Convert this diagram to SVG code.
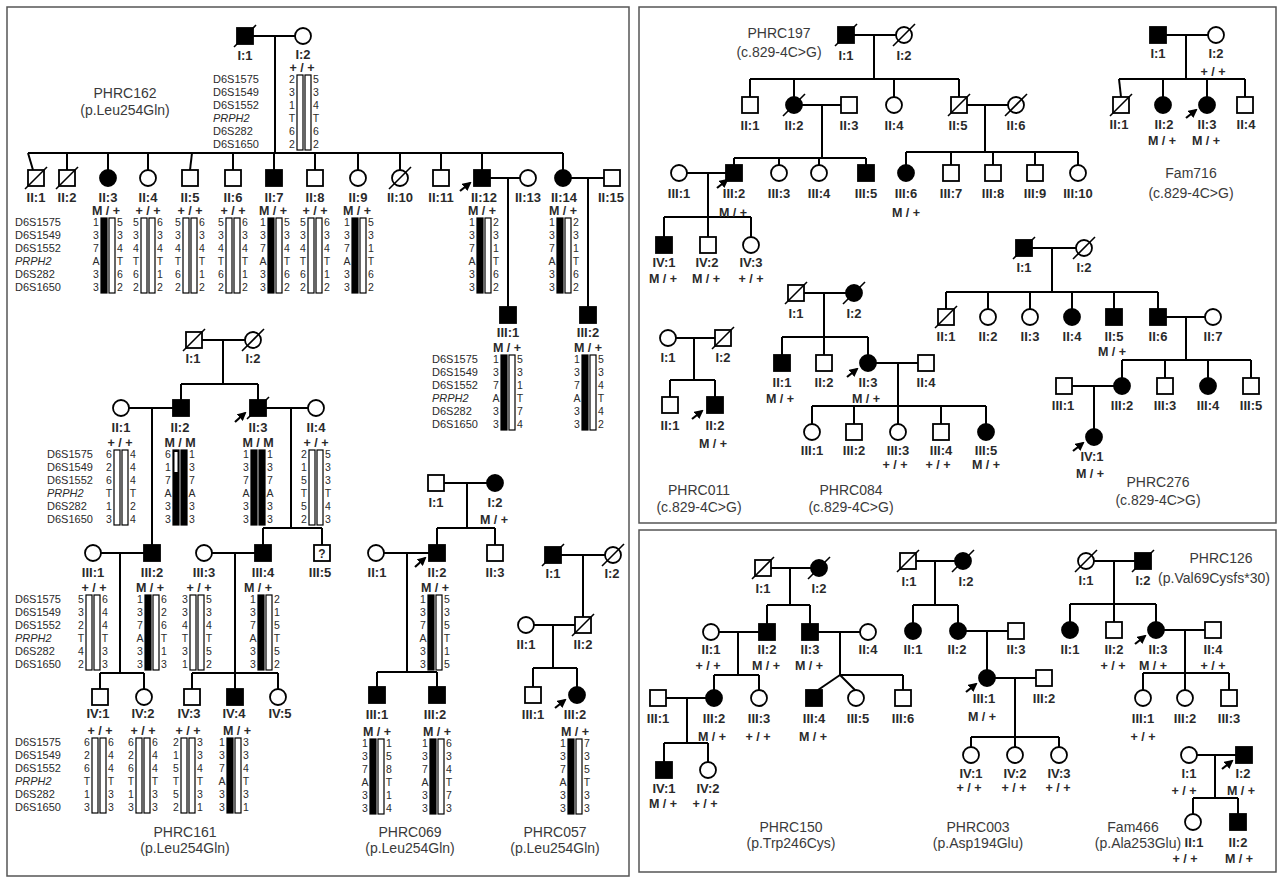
<svg xmlns="http://www.w3.org/2000/svg" width="1281" height="880" viewBox="0 0 1281 880">
<style>
text{font-family:"Liberation Sans",Arial,Helvetica,sans-serif}
.o{fill:#fff;stroke:#000;stroke-width:1.8}
.f{fill:#000;stroke:#000;stroke-width:1.8}
.d{stroke:#000;stroke-width:1.6}
#conn line{stroke:#000;stroke-width:2;fill:none}
.lb{font-size:13px;font-weight:bold;text-anchor:middle;fill:#2a2a2a}
.gt{font-size:12.5px;font-weight:bold;text-anchor:middle;fill:#2a2a2a}
.tt{font-size:14px;text-anchor:middle;fill:#3a3a3a}
.mk text{font-size:11px;fill:#2a2a2a}
.h text{font-size:10.5px;text-anchor:middle;fill:#2a2a2a}
.k{fill:#000;stroke:#000;stroke-width:1.2}
.w{fill:#fff;stroke:#000;stroke-width:1.2}
.ar{stroke:#000;stroke-width:2.2;marker-end:url(#ah)}
.pn{fill:#fff;stroke:#555;stroke-width:1.5}
</style>
<defs><marker id="ah" markerUnits="userSpaceOnUse" markerWidth="9" markerHeight="9" refX="7" refY="4.5" orient="auto"><path d="M0,0 L9,4.5 L0,9 z"/></marker></defs>
<rect width="1281" height="880" fill="#fff"/>
<g id="panels">
<rect class="pn" x="7" y="7" width="622" height="869"/>
<rect class="pn" x="639" y="7" width="637" height="516"/>
<rect class="pn" x="639" y="530" width="637" height="342"/>
</g>
<g id="conn">
<line x1="253" y1="36" x2="295" y2="36"/><line x1="275" y1="36" x2="275" y2="153"/>
<line x1="28" y1="153" x2="563" y2="153"/>
<line x1="28" y1="153" x2="33" y2="170"/><line x1="67" y1="153" x2="67" y2="170"/><line x1="108" y1="153" x2="108" y2="170"/><line x1="148" y1="153" x2="148" y2="170"/><line x1="192" y1="153" x2="190" y2="170"/><line x1="233" y1="153" x2="233" y2="170"/><line x1="274" y1="153" x2="274" y2="170"/><line x1="315" y1="153" x2="315" y2="170"/><line x1="358" y1="153" x2="358" y2="170"/><line x1="400" y1="153" x2="400" y2="170"/><line x1="441" y1="153" x2="441" y2="170"/><line x1="482" y1="153" x2="482" y2="170"/><line x1="563" y1="153" x2="563" y2="170"/>
<line x1="490" y1="178" x2="520" y2="178"/><line x1="508" y1="178" x2="508" y2="307"/>
<line x1="571" y1="178" x2="604" y2="178"/><line x1="588" y1="178" x2="588" y2="307"/>
<line x1="202" y1="340" x2="245" y2="340"/><line x1="223" y1="340" x2="223" y2="384"/>
<line x1="181" y1="384" x2="258" y2="384"/><line x1="181" y1="384" x2="181" y2="400"/><line x1="258" y1="384" x2="258" y2="400"/>
<line x1="129" y1="408" x2="173" y2="408"/><line x1="152" y1="408" x2="152" y2="545"/>
<line x1="266" y1="408" x2="308" y2="408"/><line x1="291" y1="408" x2="291" y2="528"/>
<line x1="263" y1="528" x2="322" y2="528"/><line x1="263" y1="528" x2="263" y2="545"/><line x1="322" y1="528" x2="322" y2="545"/>
<line x1="101" y1="553" x2="144" y2="553"/><line x1="120" y1="553" x2="120" y2="673"/>
<line x1="212" y1="553" x2="255" y2="553"/><line x1="235" y1="553" x2="235" y2="689"/>
<line x1="100" y1="673" x2="144" y2="673"/><line x1="100" y1="673" x2="100" y2="689"/><line x1="144" y1="673" x2="144" y2="689"/>
<line x1="192" y1="673" x2="278" y2="673"/><line x1="192" y1="673" x2="192" y2="689"/><line x1="278" y1="673" x2="278" y2="689"/>
<line x1="444" y1="483" x2="487" y2="483"/><line x1="467" y1="483" x2="467" y2="528"/>
<line x1="437" y1="528" x2="495" y2="528"/><line x1="437" y1="528" x2="437" y2="545"/><line x1="495" y1="528" x2="495" y2="545"/>
<line x1="384" y1="553" x2="429" y2="553"/><line x1="407" y1="553" x2="407" y2="672"/>
<line x1="377" y1="672" x2="437" y2="672"/><line x1="377" y1="672" x2="377" y2="687"/><line x1="437" y1="672" x2="437" y2="687"/>
<line x1="561" y1="555" x2="605" y2="555"/><line x1="583" y1="555" x2="583" y2="617"/>
<line x1="534" y1="625" x2="575" y2="625"/><line x1="553" y1="625" x2="553" y2="668"/>
<line x1="533" y1="668" x2="577" y2="668"/><line x1="533" y1="668" x2="533" y2="687"/><line x1="577" y1="668" x2="577" y2="687"/>
<line x1="854" y1="35" x2="896" y2="35"/><line x1="874" y1="35" x2="874" y2="79"/>
<line x1="750" y1="79" x2="959" y2="79"/><line x1="750" y1="79" x2="750" y2="97"/><line x1="794" y1="79" x2="794" y2="97"/><line x1="894" y1="79" x2="894" y2="97"/><line x1="959" y1="79" x2="959" y2="97"/>
<line x1="802" y1="105" x2="841" y2="105"/><line x1="822" y1="105" x2="822" y2="158"/>
<line x1="967" y1="105" x2="1008" y2="105"/><line x1="985" y1="105" x2="985" y2="152"/>
<line x1="734" y1="158" x2="866" y2="158"/><line x1="734" y1="158" x2="734" y2="165"/><line x1="779" y1="158" x2="779" y2="165"/><line x1="819" y1="158" x2="819" y2="165"/><line x1="866" y1="158" x2="866" y2="165"/>
<line x1="906" y1="152" x2="1078" y2="152"/><line x1="906" y1="152" x2="906" y2="165"/><line x1="951" y1="152" x2="951" y2="165"/><line x1="993" y1="152" x2="993" y2="165"/><line x1="1035" y1="152" x2="1035" y2="165"/><line x1="1078" y1="152" x2="1078" y2="165"/>
<line x1="687" y1="173" x2="726" y2="173"/><line x1="708" y1="173" x2="708" y2="237"/>
<line x1="664" y1="217" x2="751" y2="217"/><line x1="664" y1="217" x2="664" y2="237"/><line x1="751" y1="217" x2="751" y2="237"/>
<line x1="1166" y1="35" x2="1208" y2="35"/><line x1="1186" y1="35" x2="1186" y2="79"/>
<line x1="1119" y1="79" x2="1245" y2="79"/><line x1="1119" y1="79" x2="1121" y2="97"/><line x1="1163" y1="79" x2="1163" y2="97"/><line x1="1207" y1="79" x2="1207" y2="97"/><line x1="1245" y1="79" x2="1245" y2="97"/>
<line x1="676" y1="338" x2="715" y2="338"/><line x1="694" y1="338" x2="694" y2="380"/>
<line x1="670" y1="380" x2="715" y2="380"/><line x1="670" y1="380" x2="670" y2="397"/><line x1="715" y1="380" x2="715" y2="397"/>
<line x1="804" y1="293" x2="846" y2="293"/><line x1="824" y1="293" x2="824" y2="355"/>
<line x1="782" y1="337" x2="868" y2="337"/><line x1="782" y1="337" x2="782" y2="355"/><line x1="868" y1="337" x2="868" y2="355"/>
<line x1="876" y1="363" x2="918" y2="363"/><line x1="898" y1="363" x2="898" y2="424"/>
<line x1="812" y1="406" x2="986" y2="406"/><line x1="812" y1="406" x2="812" y2="424"/><line x1="854" y1="406" x2="854" y2="424"/><line x1="941" y1="406" x2="941" y2="424"/><line x1="986" y1="406" x2="986" y2="424"/>
<line x1="1032" y1="248" x2="1076" y2="248"/><line x1="1052" y1="248" x2="1052" y2="292"/>
<line x1="946" y1="292" x2="1158" y2="292"/><line x1="946" y1="292" x2="946" y2="309"/><line x1="988" y1="292" x2="988" y2="309"/><line x1="1030" y1="292" x2="1030" y2="309"/><line x1="1072" y1="292" x2="1072" y2="309"/><line x1="1114" y1="292" x2="1114" y2="309"/><line x1="1158" y1="292" x2="1158" y2="309"/>
<line x1="1166" y1="317" x2="1205" y2="317"/><line x1="1186" y1="317" x2="1186" y2="360"/>
<line x1="1122" y1="360" x2="1251" y2="360"/><line x1="1122" y1="360" x2="1122" y2="378"/><line x1="1165" y1="360" x2="1165" y2="378"/><line x1="1208" y1="360" x2="1208" y2="378"/><line x1="1251" y1="360" x2="1251" y2="378"/>
<line x1="1072" y1="386" x2="1114" y2="386"/><line x1="1094" y1="386" x2="1094" y2="429"/>
<line x1="771" y1="568" x2="811" y2="568"/><line x1="790" y1="568" x2="790" y2="605"/>
<line x1="767" y1="605" x2="810" y2="605"/><line x1="767" y1="605" x2="767" y2="624"/><line x1="810" y1="605" x2="810" y2="624"/>
<line x1="719" y1="632" x2="759" y2="632"/><line x1="738" y1="632" x2="738" y2="675"/>
<line x1="818" y1="632" x2="860" y2="632"/><line x1="840" y1="632" x2="840" y2="675"/>
<line x1="714" y1="675" x2="759" y2="675"/><line x1="714" y1="675" x2="714" y2="690"/><line x1="759" y1="675" x2="759" y2="690"/>
<line x1="840" y1="675" x2="818" y2="690"/><line x1="840" y1="675" x2="855" y2="690"/><line x1="840" y1="675" x2="903" y2="675"/><line x1="903" y1="675" x2="903" y2="690"/>
<line x1="666" y1="698" x2="706" y2="698"/><line x1="687" y1="698" x2="687" y2="743"/>
<line x1="664" y1="743" x2="708" y2="743"/><line x1="664" y1="743" x2="664" y2="762"/><line x1="708" y1="743" x2="708" y2="762"/>
<line x1="916" y1="561" x2="955" y2="561"/><line x1="935" y1="561" x2="935" y2="605"/>
<line x1="913" y1="605" x2="958" y2="605"/><line x1="913" y1="605" x2="913" y2="623"/><line x1="958" y1="605" x2="958" y2="623"/>
<line x1="966" y1="631" x2="1008" y2="631"/><line x1="987" y1="631" x2="987" y2="670"/>
<line x1="995" y1="678" x2="1036" y2="678"/><line x1="1015" y1="678" x2="1015" y2="747"/>
<line x1="971" y1="737" x2="1059" y2="737"/><line x1="971" y1="737" x2="971" y2="747"/><line x1="1059" y1="737" x2="1059" y2="747"/>
<line x1="1094" y1="561" x2="1135" y2="561"/><line x1="1114" y1="561" x2="1114" y2="622"/>
<line x1="1070" y1="604" x2="1156" y2="604"/><line x1="1070" y1="604" x2="1070" y2="622"/><line x1="1156" y1="604" x2="1156" y2="622"/>
<line x1="1164" y1="630" x2="1205" y2="630"/><line x1="1185" y1="630" x2="1185" y2="690"/>
<line x1="1143" y1="673" x2="1229" y2="673"/><line x1="1143" y1="673" x2="1143" y2="690"/><line x1="1229" y1="673" x2="1229" y2="690"/>
<line x1="1197" y1="755" x2="1236" y2="755"/><line x1="1215" y1="755" x2="1215" y2="798"/>
<line x1="1193" y1="798" x2="1238" y2="798"/><line x1="1193" y1="798" x2="1193" y2="814"/><line x1="1238" y1="798" x2="1238" y2="814"/>
</g>

<g id="p162-title"><text class="tt" x="125" y="98">PHRC162</text><text class="tt" x="125" y="115">(p.Leu254Gln)</text></g>
<g id="p162-I1"><rect class="f" x="237" y="28" width="16" height="16"/><line class="d" x1="234" y1="47" x2="256" y2="25"/><text class="lb" x="245" y="60">I:1</text></g>
<g id="p162-I2"><circle class="o" cx="303" cy="36" r="8"/><text class="lb" x="303" y="59">I:2</text><text class="gt" x="302" y="72">+ / +</text>
<g class="mk" transform="translate(213,79)"><text y="4">D6S1575</text><text y="17">D6S1549</text><text y="30">D6S1552</text><text y="43" font-style="italic">PRPH2</text><text y="56">D6S282</text><text y="69">D6S1650</text></g>
<g class="h" transform="translate(304,79)"><rect class="w" x="-7" y="-4" width="6" height="75"/><rect class="w" x="1" y="-4" width="6" height="75"/><text x="-12" y="4">2</text><text x="-12" y="17">3</text><text x="-12" y="30">1</text><text x="-12" y="43">T</text><text x="-12" y="56">6</text><text x="-12" y="69">2</text><text x="12" y="4">5</text><text x="12" y="17">3</text><text x="12" y="30">4</text><text x="12" y="43">T</text><text x="12" y="56">6</text><text x="12" y="69">2</text></g></g>
<g class="mk" id="p162-markers2" transform="translate(15,222)"><text y="4">D6S1575</text><text y="17">D6S1549</text><text y="30">D6S1552</text><text y="43" font-style="italic">PRPH2</text><text y="56">D6S282</text><text y="69">D6S1650</text></g>
<g id="p162-II1"><rect class="o" x="28" y="170" width="16" height="16"/><line class="d" x1="25" y1="189" x2="47" y2="167"/><text class="lb" x="36" y="202">II:1</text></g>
<g id="p162-II2"><rect class="o" x="59" y="170" width="16" height="16"/><line class="d" x1="56" y1="189" x2="78" y2="167"/><text class="lb" x="67" y="202">II:2</text></g>
<g id="p162-II3"><circle class="f" cx="108" cy="178" r="8"/><text class="lb" x="108" y="202">II:3</text><text class="gt" x="106" y="215">M / +</text>
<g class="h" transform="translate(108,222)"><rect class="k" x="-7" y="-4" width="6" height="75"/><rect class="w" x="1" y="-4" width="6" height="75"/><text x="-12" y="4">1</text><text x="-12" y="17">3</text><text x="-12" y="30">7</text><text x="-12" y="43">A</text><text x="-12" y="56">3</text><text x="-12" y="69">3</text><text x="12" y="4">5</text><text x="12" y="17">3</text><text x="12" y="30">4</text><text x="12" y="43">T</text><text x="12" y="56">6</text><text x="12" y="69">2</text></g></g>
<g id="p162-II4"><circle class="o" cx="148" cy="178" r="8"/><text class="lb" x="148" y="202">II:4</text><text class="gt" x="148" y="215">+ / +</text>
<g class="h" transform="translate(148,222)"><rect class="w" x="-7" y="-4" width="6" height="75"/><rect class="w" x="1" y="-4" width="6" height="75"/><text x="-12" y="4">5</text><text x="-12" y="17">3</text><text x="-12" y="30">4</text><text x="-12" y="43">T</text><text x="-12" y="56">6</text><text x="-12" y="69">2</text><text x="12" y="4">6</text><text x="12" y="17">3</text><text x="12" y="30">4</text><text x="12" y="43">T</text><text x="12" y="56">1</text><text x="12" y="69">2</text></g></g>
<g id="p162-II5"><rect class="o" x="182" y="170" width="16" height="16"/><text class="lb" x="190" y="202">II:5</text><text class="gt" x="190" y="215">+ / +</text>
<g class="h" transform="translate(190,222)"><rect class="w" x="-7" y="-4" width="6" height="75"/><rect class="w" x="1" y="-4" width="6" height="75"/><text x="-12" y="4">5</text><text x="-12" y="17">3</text><text x="-12" y="30">4</text><text x="-12" y="43">T</text><text x="-12" y="56">6</text><text x="-12" y="69">2</text><text x="12" y="4">6</text><text x="12" y="17">3</text><text x="12" y="30">4</text><text x="12" y="43">T</text><text x="12" y="56">1</text><text x="12" y="69">2</text></g></g>
<g id="p162-II6"><rect class="o" x="225" y="170" width="16" height="16"/><text class="lb" x="233" y="202">II:6</text><text class="gt" x="233" y="215">+ / +</text>
<g class="h" transform="translate(233,222)"><rect class="w" x="-7" y="-4" width="6" height="75"/><rect class="w" x="1" y="-4" width="6" height="75"/><text x="-12" y="4">5</text><text x="-12" y="17">3</text><text x="-12" y="30">4</text><text x="-12" y="43">T</text><text x="-12" y="56">6</text><text x="-12" y="69">2</text><text x="12" y="4">6</text><text x="12" y="17">3</text><text x="12" y="30">4</text><text x="12" y="43">T</text><text x="12" y="56">1</text><text x="12" y="69">2</text></g></g>
<g id="p162-II7"><rect class="f" x="266" y="170" width="16" height="16"/><text class="lb" x="274" y="202">II:7</text><text class="gt" x="273" y="215">M / +</text>
<g class="h" transform="translate(275,222)"><rect class="k" x="-7" y="-4" width="6" height="75"/><rect class="w" x="1" y="-4" width="6" height="75"/><text x="-12" y="4">1</text><text x="-12" y="17">3</text><text x="-12" y="30">7</text><text x="-12" y="43">A</text><text x="-12" y="56">3</text><text x="-12" y="69">3</text><text x="12" y="4">5</text><text x="12" y="17">3</text><text x="12" y="30">4</text><text x="12" y="43">T</text><text x="12" y="56">6</text><text x="12" y="69">2</text></g></g>
<g id="p162-II8"><rect class="o" x="307" y="170" width="16" height="16"/><text class="lb" x="315" y="202">II:8</text><text class="gt" x="315" y="215">+ / +</text>
<g class="h" transform="translate(315,222)"><rect class="w" x="-7" y="-4" width="6" height="75"/><rect class="w" x="1" y="-4" width="6" height="75"/><text x="-12" y="4">5</text><text x="-12" y="17">3</text><text x="-12" y="30">4</text><text x="-12" y="43">T</text><text x="-12" y="56">6</text><text x="-12" y="69">2</text><text x="12" y="4">6</text><text x="12" y="17">3</text><text x="12" y="30">4</text><text x="12" y="43">T</text><text x="12" y="56">1</text><text x="12" y="69">2</text></g></g>
<g id="p162-II9"><circle class="o" cx="358" cy="178" r="8"/><text class="lb" x="358" y="202">II:9</text><text class="gt" x="357" y="215">M / +</text>
<g class="h" transform="translate(359,222)"><rect class="k" x="-7" y="-4" width="6" height="75"/><rect class="w" x="1" y="-4" width="6" height="75"/><text x="-12" y="4">1</text><text x="-12" y="17">3</text><text x="-12" y="30">7</text><text x="-12" y="43">A</text><text x="-12" y="56">3</text><text x="-12" y="69">3</text><text x="12" y="4">5</text><text x="12" y="17">3</text><text x="12" y="30">1</text><text x="12" y="43">T</text><text x="12" y="56">6</text><text x="12" y="69">2</text></g></g>
<g id="p162-II10"><circle class="o" cx="400" cy="178" r="8"/><line class="d" x1="389" y1="189" x2="411" y2="167"/><text class="lb" x="400" y="202">II:10</text></g>
<g id="p162-II11"><rect class="o" x="433" y="170" width="16" height="16"/><text class="lb" x="441" y="202">II:11</text></g>
<g id="p162-II12"><rect class="f" x="474" y="170" width="16" height="16"/><line class="ar" x1="460" y1="191" x2="470" y2="183"/><text class="lb" x="484" y="202">II:12</text><text class="gt" x="482" y="215">M / +</text>
<g class="h" transform="translate(484,222)"><rect class="k" x="-7" y="-4" width="6" height="75"/><rect class="w" x="1" y="-4" width="6" height="75"/><text x="-12" y="4">1</text><text x="-12" y="17">3</text><text x="-12" y="30">7</text><text x="-12" y="43">A</text><text x="-12" y="56">3</text><text x="-12" y="69">3</text><text x="12" y="4">2</text><text x="12" y="17">3</text><text x="12" y="30">1</text><text x="12" y="43">T</text><text x="12" y="56">6</text><text x="12" y="69">2</text></g></g>
<g id="p162-II13"><circle class="o" cx="528" cy="178" r="8"/><text class="lb" x="528" y="202">II:13</text></g>
<g id="p162-II14"><circle class="f" cx="563" cy="178" r="8"/><text class="lb" x="564" y="202">II:14</text><text class="gt" x="563" y="215">M / +</text>
<g class="h" transform="translate(564,222)"><rect class="k" x="-7" y="-4" width="6" height="75"/><rect class="w" x="1" y="-4" width="6" height="75"/><text x="-12" y="4">1</text><text x="-12" y="17">3</text><text x="-12" y="30">7</text><text x="-12" y="43">A</text><text x="-12" y="56">3</text><text x="-12" y="69">3</text><text x="12" y="4">2</text><text x="12" y="17">3</text><text x="12" y="30">1</text><text x="12" y="43">T</text><text x="12" y="56">6</text><text x="12" y="69">2</text></g></g>
<g id="p162-II15"><rect class="o" x="604" y="170" width="16" height="16"/><text class="lb" x="611" y="202">II:15</text></g>
<g class="mk" id="p162-markers3" transform="translate(432,359)"><text y="4">D6S1575</text><text y="17">D6S1549</text><text y="30">D6S1552</text><text y="43" font-style="italic">PRPH2</text><text y="56">D6S282</text><text y="69">D6S1650</text></g>
<g id="p162-III1"><rect class="f" x="500" y="307" width="16" height="16"/><text class="lb" x="508" y="337">III:1</text><text class="gt" x="507" y="352">M / +</text>
<g class="h" transform="translate(508,359)"><rect class="k" x="-7" y="-4" width="6" height="75"/><rect class="w" x="1" y="-4" width="6" height="75"/><text x="-12" y="4">1</text><text x="-12" y="17">3</text><text x="-12" y="30">7</text><text x="-12" y="43">A</text><text x="-12" y="56">3</text><text x="-12" y="69">3</text><text x="12" y="4">5</text><text x="12" y="17">3</text><text x="12" y="30">1</text><text x="12" y="43">T</text><text x="12" y="56">7</text><text x="12" y="69">4</text></g></g>
<g id="p162-III2"><rect class="f" x="580" y="307" width="16" height="16"/><text class="lb" x="588" y="337">III:2</text><text class="gt" x="588" y="352">M / +</text>
<g class="h" transform="translate(589,359)"><rect class="k" x="-7" y="-4" width="6" height="75"/><rect class="w" x="1" y="-4" width="6" height="75"/><text x="-12" y="4">1</text><text x="-12" y="17">3</text><text x="-12" y="30">7</text><text x="-12" y="43">A</text><text x="-12" y="56">3</text><text x="-12" y="69">3</text><text x="12" y="4">5</text><text x="12" y="17">3</text><text x="12" y="30">4</text><text x="12" y="43">T</text><text x="12" y="56">4</text><text x="12" y="69">2</text></g></g>

<g id="p161-title"><text class="tt" x="185" y="837">PHRC161</text><text class="tt" x="185" y="853">(p.Leu254Gln)</text></g>
<g id="p161-I1"><rect class="o" x="186" y="332" width="16" height="16"/><line class="d" x1="183" y1="351" x2="205" y2="329"/><text class="lb" x="193" y="363">I:1</text></g>
<g id="p161-I2"><circle class="o" cx="253" cy="340" r="8"/><line class="d" x1="242" y1="351" x2="264" y2="329"/><text class="lb" x="253" y="363">I:2</text></g>
<g class="mk" id="p161-markers2" transform="translate(47,454)"><text y="4">D6S1575</text><text y="17">D6S1549</text><text y="30">D6S1552</text><text y="43" font-style="italic">PRPH2</text><text y="56">D6S282</text><text y="69">D6S1650</text></g>
<g id="p161-II1"><circle class="o" cx="121" cy="408" r="8"/><text class="lb" x="121" y="432">II:1</text><text class="gt" x="120" y="447">+ / +</text>
<g class="h" transform="translate(121,454)"><rect class="w" x="-7" y="-4" width="6" height="75"/><rect class="w" x="1" y="-4" width="6" height="75"/><text x="-12" y="4">6</text><text x="-12" y="17">2</text><text x="-12" y="30">6</text><text x="-12" y="43">T</text><text x="-12" y="56">1</text><text x="-12" y="69">3</text><text x="12" y="4">4</text><text x="12" y="17">4</text><text x="12" y="30">4</text><text x="12" y="43">T</text><text x="12" y="56">2</text><text x="12" y="69">4</text></g></g>
<g id="p161-II2"><rect class="f" x="173" y="400" width="16" height="16"/><text class="lb" x="180" y="432">II:2</text><text class="gt" x="180" y="447">M / M</text>
<g class="h" transform="translate(180,454)"><rect class="k" x="-7" y="-4" width="6" height="75"/><rect fill="#fff" x="-5.5" y="-2" width="3" height="20"/><rect class="k" x="1" y="-4" width="6" height="75"/><text x="-12" y="4">6</text><text x="-12" y="17">1</text><text x="-12" y="30">7</text><text x="-12" y="43">A</text><text x="-12" y="56">3</text><text x="-12" y="69">3</text><text x="12" y="4">1</text><text x="12" y="17">3</text><text x="12" y="30">7</text><text x="12" y="43">A</text><text x="12" y="56">3</text><text x="12" y="69">3</text></g></g>
<g id="p161-II3"><rect class="f" x="250" y="400" width="16" height="16"/><line class="d" x1="247" y1="419" x2="269" y2="397"/><line class="ar" x1="235" y1="422" x2="245" y2="413"/><text class="lb" x="258" y="432">II:3</text><text class="gt" x="258" y="447">M / M</text>
<g class="h" transform="translate(258,454)"><rect class="k" x="-7" y="-4" width="6" height="75"/><rect class="k" x="1" y="-4" width="6" height="75"/><text x="-12" y="4">1</text><text x="-12" y="17">3</text><text x="-12" y="30">7</text><text x="-12" y="43">A</text><text x="-12" y="56">3</text><text x="-12" y="69">3</text><text x="12" y="4">1</text><text x="12" y="17">3</text><text x="12" y="30">7</text><text x="12" y="43">A</text><text x="12" y="56">3</text><text x="12" y="69">3</text></g></g>
<g id="p161-II4"><circle class="o" cx="316" cy="408" r="8"/><text class="lb" x="316" y="432">II:4</text><text class="gt" x="316" y="447">+ / +</text>
<g class="h" transform="translate(316,454)"><rect class="w" x="-7" y="-4" width="6" height="75"/><rect class="w" x="1" y="-4" width="6" height="75"/><text x="-12" y="4">2</text><text x="-12" y="17">1</text><text x="-12" y="30">5</text><text x="-12" y="43">T</text><text x="-12" y="56">5</text><text x="-12" y="69">2</text><text x="12" y="4">5</text><text x="12" y="17">3</text><text x="12" y="30">3</text><text x="12" y="43">T</text><text x="12" y="56">4</text><text x="12" y="69">3</text></g></g>
<g class="mk" id="p161-markers3" transform="translate(15,599)"><text y="4">D6S1575</text><text y="17">D6S1549</text><text y="30">D6S1552</text><text y="43" font-style="italic">PRPH2</text><text y="56">D6S282</text><text y="69">D6S1650</text></g>
<g id="p161-III1"><circle class="o" cx="93" cy="553" r="8"/><text class="lb" x="93" y="577">III:1</text><text class="gt" x="94" y="592">+ / +</text>
<g class="h" transform="translate(93,599)"><rect class="w" x="-7" y="-4" width="6" height="75"/><rect class="w" x="1" y="-4" width="6" height="75"/><text x="-12" y="4">5</text><text x="-12" y="17">3</text><text x="-12" y="30">2</text><text x="-12" y="43">T</text><text x="-12" y="56">4</text><text x="-12" y="69">2</text><text x="12" y="4">6</text><text x="12" y="17">4</text><text x="12" y="30">4</text><text x="12" y="43">T</text><text x="12" y="56">3</text><text x="12" y="69">3</text></g></g>
<g id="p161-III2"><rect class="f" x="144" y="545" width="16" height="16"/><text class="lb" x="152" y="577">III:2</text><text class="gt" x="150" y="592">M / +</text>
<g class="h" transform="translate(152,599)"><rect class="k" x="-7" y="-4" width="6" height="75"/><rect class="w" x="1" y="-4" width="6" height="75"/><text x="-12" y="4">1</text><text x="-12" y="17">3</text><text x="-12" y="30">7</text><text x="-12" y="43">A</text><text x="-12" y="56">3</text><text x="-12" y="69">3</text><text x="12" y="4">6</text><text x="12" y="17">2</text><text x="12" y="30">6</text><text x="12" y="43">T</text><text x="12" y="56">1</text><text x="12" y="69">3</text></g></g>
<g id="p161-III3"><circle class="o" cx="204" cy="553" r="8"/><text class="lb" x="204" y="577">III:3</text><text class="gt" x="199" y="592">+ / +</text>
<g class="h" transform="translate(197,599)"><rect class="w" x="-7" y="-4" width="6" height="75"/><rect class="w" x="1" y="-4" width="6" height="75"/><text x="-12" y="4">3</text><text x="-12" y="17">3</text><text x="-12" y="30">4</text><text x="-12" y="43">T</text><text x="-12" y="56">3</text><text x="-12" y="69">1</text><text x="12" y="4">5</text><text x="12" y="17">3</text><text x="12" y="30">4</text><text x="12" y="43">T</text><text x="12" y="56">5</text><text x="12" y="69">2</text></g></g>
<g id="p161-III4"><rect class="f" x="255" y="545" width="16" height="16"/><text class="lb" x="263" y="577">III:4</text><text class="gt" x="258" y="592">M / +</text>
<g class="h" transform="translate(265,599)"><rect class="k" x="-7" y="-4" width="6" height="75"/><rect class="w" x="1" y="-4" width="6" height="75"/><text x="-12" y="4">1</text><text x="-12" y="17">3</text><text x="-12" y="30">7</text><text x="-12" y="43">A</text><text x="-12" y="56">3</text><text x="-12" y="69">3</text><text x="12" y="4">2</text><text x="12" y="17">1</text><text x="12" y="30">5</text><text x="12" y="43">T</text><text x="12" y="56">5</text><text x="12" y="69">2</text></g></g>
<g id="p161-III5"><rect class="o" x="314" y="545" width="16" height="16"/><text class="lb" x="322" y="558" style="font-size:12px">?</text><text class="lb" x="320" y="577">III:5</text></g>
<g class="mk" id="p161-markers4" transform="translate(15,742)"><text y="4">D6S1575</text><text y="17">D6S1549</text><text y="30">D6S1552</text><text y="43" font-style="italic">PRPH2</text><text y="56">D6S282</text><text y="69">D6S1650</text></g>
<g id="p161-IV1"><rect class="o" x="92" y="689" width="16" height="16"/><text class="lb" x="98" y="718">IV:1</text><text class="gt" x="100" y="735">+ / +</text>
<g class="h" transform="translate(99,742)"><rect class="w" x="-7" y="-4" width="6" height="75"/><rect class="w" x="1" y="-4" width="6" height="75"/><text x="-12" y="4">6</text><text x="-12" y="17">2</text><text x="-12" y="30">6</text><text x="-12" y="43">T</text><text x="-12" y="56">1</text><text x="-12" y="69">3</text><text x="12" y="4">6</text><text x="12" y="17">4</text><text x="12" y="30">4</text><text x="12" y="43">T</text><text x="12" y="56">3</text><text x="12" y="69">3</text></g></g>
<g id="p161-IV2"><circle class="o" cx="144" cy="697" r="8"/><text class="lb" x="143" y="718">IV:2</text><text class="gt" x="143" y="735">+ / +</text>
<g class="h" transform="translate(143,742)"><rect class="w" x="-7" y="-4" width="6" height="75"/><rect class="w" x="1" y="-4" width="6" height="75"/><text x="-12" y="4">6</text><text x="-12" y="17">2</text><text x="-12" y="30">6</text><text x="-12" y="43">T</text><text x="-12" y="56">1</text><text x="-12" y="69">3</text><text x="12" y="4">6</text><text x="12" y="17">4</text><text x="12" y="30">4</text><text x="12" y="43">T</text><text x="12" y="56">3</text><text x="12" y="69">3</text></g></g>
<g id="p161-IV3"><rect class="o" x="184" y="689" width="16" height="16"/><text class="lb" x="189" y="718">IV:3</text><text class="gt" x="188" y="735">+ / +</text>
<g class="h" transform="translate(188,742)"><rect class="w" x="-7" y="-4" width="6" height="75"/><rect class="w" x="1" y="-4" width="6" height="75"/><text x="-12" y="4">2</text><text x="-12" y="17">1</text><text x="-12" y="30">5</text><text x="-12" y="43">T</text><text x="-12" y="56">5</text><text x="-12" y="69">2</text><text x="12" y="4">3</text><text x="12" y="17">3</text><text x="12" y="30">4</text><text x="12" y="43">T</text><text x="12" y="56">3</text><text x="12" y="69">1</text></g></g>
<g id="p161-IV4"><rect class="f" x="227" y="689" width="16" height="16"/><text class="lb" x="234" y="718">IV:4</text><text class="gt" x="237" y="735">M / +</text>
<g class="h" transform="translate(234,742)"><rect class="k" x="-7" y="-4" width="6" height="75"/><rect class="w" x="1" y="-4" width="6" height="75"/><text x="-12" y="4">1</text><text x="-12" y="17">3</text><text x="-12" y="30">7</text><text x="-12" y="43">A</text><text x="-12" y="56">3</text><text x="-12" y="69">3</text><text x="12" y="4">3</text><text x="12" y="17">3</text><text x="12" y="30">4</text><text x="12" y="43">T</text><text x="12" y="56">3</text><text x="12" y="69">1</text></g></g>
<g id="p161-IV5"><circle class="o" cx="278" cy="697" r="8"/><text class="lb" x="280" y="718">IV:5</text></g>

<g id="p069-title"><text class="tt" x="410" y="837">PHRC069</text><text class="tt" x="410" y="853">(p.Leu254Gln)</text></g>
<g id="p069-I1"><rect class="o" x="428" y="475" width="16" height="16"/><text class="lb" x="436" y="507">I:1</text></g>
<g id="p069-I2"><circle class="f" cx="495" cy="483" r="8"/><text class="lb" x="495" y="507">I:2</text><text class="gt" x="494" y="524">M / +</text></g>
<g id="p069-II1"><circle class="o" cx="376" cy="553" r="8"/><text class="lb" x="377" y="577">II:1</text></g>
<g id="p069-II2"><rect class="f" x="429" y="545" width="16" height="16"/><line class="ar" x1="415" y1="567" x2="425" y2="558"/><text class="lb" x="437" y="577">II:2</text><text class="gt" x="435" y="592">M / +</text>
<g class="h" transform="translate(435,599)"><rect class="k" x="-7" y="-4" width="6" height="75"/><rect class="w" x="1" y="-4" width="6" height="75"/><text x="-12" y="4">1</text><text x="-12" y="17">3</text><text x="-12" y="30">7</text><text x="-12" y="43">A</text><text x="-12" y="56">3</text><text x="-12" y="69">3</text><text x="12" y="4">5</text><text x="12" y="17">3</text><text x="12" y="30">5</text><text x="12" y="43">T</text><text x="12" y="56">1</text><text x="12" y="69">5</text></g></g>
<g id="p069-II3"><rect class="o" x="487" y="545" width="16" height="16"/><text class="lb" x="495" y="577">II:3</text></g>
<g id="p069-III1"><rect class="f" x="369" y="687" width="16" height="16"/><text class="lb" x="377" y="719">III:1</text><text class="gt" x="377" y="736">M / +</text>
<g class="h" transform="translate(377,743)"><rect class="k" x="-7" y="-4" width="6" height="75"/><rect class="w" x="1" y="-4" width="6" height="75"/><text x="-12" y="4">1</text><text x="-12" y="17">3</text><text x="-12" y="30">7</text><text x="-12" y="43">A</text><text x="-12" y="56">3</text><text x="-12" y="69">3</text><text x="12" y="4">1</text><text x="12" y="17">5</text><text x="12" y="30">8</text><text x="12" y="43">T</text><text x="12" y="56">1</text><text x="12" y="69">4</text></g></g>
<g id="p069-III2"><rect class="f" x="429" y="687" width="16" height="16"/><text class="lb" x="435" y="719">III:2</text><text class="gt" x="437" y="736">M / +</text>
<g class="h" transform="translate(437,743)"><rect class="k" x="-7" y="-4" width="6" height="75"/><rect class="w" x="1" y="-4" width="6" height="75"/><text x="-12" y="4">1</text><text x="-12" y="17">3</text><text x="-12" y="30">7</text><text x="-12" y="43">A</text><text x="-12" y="56">3</text><text x="-12" y="69">3</text><text x="12" y="4">6</text><text x="12" y="17">3</text><text x="12" y="30">4</text><text x="12" y="43">T</text><text x="12" y="56">7</text><text x="12" y="69">3</text></g></g>

<g id="p057-title"><text class="tt" x="555" y="837">PHRC057</text><text class="tt" x="555" y="853">(p.Leu254Gln)</text></g>
<g id="p057-I1"><rect class="f" x="545" y="547" width="16" height="16"/><line class="d" x1="542" y1="566" x2="564" y2="544"/><text class="lb" x="553" y="578">I:1</text></g>
<g id="p057-I2"><circle class="o" cx="613" cy="555" r="8"/><line class="d" x1="602" y1="566" x2="624" y2="544"/><text class="lb" x="612" y="578">I:2</text></g>
<g id="p057-II1"><circle class="o" cx="526" cy="625" r="8"/><text class="lb" x="526" y="649">II:1</text></g>
<g id="p057-II2"><rect class="o" x="575" y="617" width="16" height="16"/><line class="d" x1="572" y1="636" x2="594" y2="614"/><text class="lb" x="583" y="649">II:2</text></g>
<g id="p057-III1"><rect class="o" x="525" y="687" width="16" height="16"/><text class="lb" x="533" y="719">III:1</text></g>
<g id="p057-III2"><circle class="f" cx="577" cy="695" r="8"/><line class="ar" x1="555" y1="708" x2="565" y2="700"/><text class="lb" x="575" y="719">III:2</text><text class="gt" x="575" y="736">M / +</text>
<g class="h" transform="translate(575,743)"><rect class="k" x="-7" y="-4" width="6" height="75"/><rect class="w" x="1" y="-4" width="6" height="75"/><text x="-12" y="4">1</text><text x="-12" y="17">3</text><text x="-12" y="30">7</text><text x="-12" y="43">A</text><text x="-12" y="56">3</text><text x="-12" y="69">3</text><text x="12" y="4">7</text><text x="12" y="17">3</text><text x="12" y="30">5</text><text x="12" y="43">T</text><text x="12" y="56">3</text><text x="12" y="69">3</text></g></g>

<g id="p197-title"><text class="tt" x="779" y="38">PHRC197</text><text class="tt" x="779" y="57">(c.829-4C&gt;G)</text></g>
<g id="p197-I1"><rect class="f" x="838" y="27" width="16" height="16"/><line class="d" x1="835" y1="46" x2="857" y2="24"/><text class="lb" x="846" y="60">I:1</text></g>
<g id="p197-I2"><circle class="o" cx="904" cy="35" r="8"/><line class="d" x1="893" y1="46" x2="915" y2="24"/><text class="lb" x="904" y="60">I:2</text></g>
<g id="p197-II1"><rect class="o" x="742" y="97" width="16" height="16"/><text class="lb" x="750" y="130">II:1</text></g>
<g id="p197-II2"><circle class="f" cx="794" cy="105" r="8"/><line class="d" x1="783" y1="116" x2="805" y2="94"/><text class="lb" x="794" y="130">II:2</text></g>
<g id="p197-II3"><rect class="o" x="841" y="97" width="16" height="16"/><text class="lb" x="849" y="130">II:3</text></g>
<g id="p197-II4"><circle class="o" cx="894" cy="105" r="8"/><text class="lb" x="894" y="130">II:4</text></g>
<g id="p197-II5"><rect class="o" x="951" y="97" width="16" height="16"/><line class="d" x1="948" y1="116" x2="970" y2="94"/><text class="lb" x="958" y="130">II:5</text></g>
<g id="p197-II6"><circle class="o" cx="1016" cy="105" r="8"/><line class="d" x1="1005" y1="116" x2="1027" y2="94"/><text class="lb" x="1016" y="130">II:6</text></g>
<g id="p197-III1"><circle class="o" cx="679" cy="173" r="8"/><text class="lb" x="679" y="198">III:1</text></g>
<g id="p197-III2"><rect class="f" x="726" y="165" width="16" height="16"/><line class="ar" x1="717" y1="188" x2="727" y2="180"/><text class="lb" x="734" y="198">III:2</text><text class="gt" x="733" y="217">M / +</text></g>
<g id="p197-III3"><circle class="o" cx="779" cy="173" r="8"/><text class="lb" x="779" y="198">III:3</text></g>
<g id="p197-III4"><circle class="o" cx="819" cy="173" r="8"/><text class="lb" x="819" y="198">III:4</text></g>
<g id="p197-III5"><rect class="f" x="858" y="165" width="16" height="16"/><text class="lb" x="866" y="198">III:5</text></g>
<g id="p197-III6"><circle class="f" cx="906" cy="173" r="8"/><text class="lb" x="906" y="198">III:6</text><text class="gt" x="906" y="217">M / +</text></g>
<g id="p197-III7"><rect class="o" x="943" y="165" width="16" height="16"/><text class="lb" x="951" y="198">III:7</text></g>
<g id="p197-III8"><rect class="o" x="985" y="165" width="16" height="16"/><text class="lb" x="993" y="198">III:8</text></g>
<g id="p197-III9"><rect class="o" x="1027" y="165" width="16" height="16"/><text class="lb" x="1035" y="198">III:9</text></g>
<g id="p197-III10"><circle class="o" cx="1078" cy="173" r="8"/><text class="lb" x="1078" y="198">III:10</text></g>
<g id="p197-IV1"><rect class="f" x="656" y="237" width="16" height="16"/><text class="lb" x="664" y="267">IV:1</text><text class="gt" x="663" y="283">M / +</text></g>
<g id="p197-IV2"><rect class="o" x="700" y="237" width="16" height="16"/><text class="lb" x="707" y="267">IV:2</text><text class="gt" x="706" y="283">M / +</text></g>
<g id="p197-IV3"><circle class="o" cx="751" cy="245" r="8"/><text class="lb" x="751" y="267">IV:3</text><text class="gt" x="751" y="283">+ / +</text></g>

<g id="f716-title"><text class="tt" x="1191" y="178">Fam716</text><text class="tt" x="1191" y="198">(c.829-4C&gt;G)</text></g>
<g id="f716-I1"><rect class="f" x="1150" y="27" width="16" height="16"/><text class="lb" x="1158" y="58">I:1</text></g>
<g id="f716-I2"><circle class="o" cx="1216" cy="35" r="8"/><text class="lb" x="1216" y="58">I:2</text><text class="gt" x="1213" y="76">+ / +</text></g>
<g id="f716-II1"><rect class="o" x="1113" y="97" width="16" height="16"/><line class="d" x1="1110" y1="116" x2="1132" y2="94"/><text class="lb" x="1119" y="129">II:1</text></g>
<g id="f716-II2"><circle class="f" cx="1163" cy="105" r="8"/><text class="lb" x="1164" y="129">II:2</text><text class="gt" x="1162" y="145">M / +</text></g>
<g id="f716-II3"><circle class="f" cx="1207" cy="105" r="8"/><line class="ar" x1="1186" y1="118" x2="1196" y2="110"/><text class="lb" x="1207" y="129">II:3</text><text class="gt" x="1206" y="145">M / +</text></g>
<g id="f716-II4"><rect class="o" x="1237" y="97" width="16" height="16"/><text class="lb" x="1246" y="129">II:4</text></g>

<g id="p011-title"><text class="tt" x="699" y="495">PHRC011</text><text class="tt" x="699" y="512">(c.829-4C&gt;G)</text></g>
<g id="p011-I1"><circle class="o" cx="668" cy="338" r="8"/><text class="lb" x="668" y="362">I:1</text></g>
<g id="p011-I2"><rect class="o" x="715" y="330" width="16" height="16"/><line class="d" x1="712" y1="349" x2="734" y2="327"/><text class="lb" x="723" y="362">I:2</text></g>
<g id="p011-II1"><rect class="o" x="662" y="397" width="16" height="16"/><text class="lb" x="670" y="430">II:1</text></g>
<g id="p011-II2"><rect class="f" x="707" y="397" width="16" height="16"/><line class="ar" x1="692" y1="419" x2="702" y2="411"/><text class="lb" x="715" y="430">II:2</text><text class="gt" x="713" y="448">M / +</text></g>

<g id="p084-title"><text class="tt" x="851" y="495">PHRC084</text><text class="tt" x="851" y="512">(c.829-4C&gt;G)</text></g>
<g id="p084-I1"><rect class="o" x="788" y="285" width="16" height="16"/><line class="d" x1="785" y1="304" x2="807" y2="282"/><text class="lb" x="796" y="318">I:1</text></g>
<g id="p084-I2"><circle class="f" cx="854" cy="293" r="8"/><line class="d" x1="843" y1="304" x2="865" y2="282"/><text class="lb" x="854" y="318">I:2</text></g>
<g id="p084-II1"><rect class="f" x="774" y="355" width="16" height="16"/><text class="lb" x="782" y="387">II:1</text><text class="gt" x="780" y="403">M / +</text></g>
<g id="p084-II2"><rect class="o" x="816" y="355" width="16" height="16"/><text class="lb" x="824" y="387">II:2</text></g>
<g id="p084-II3"><circle class="f" cx="868" cy="363" r="8"/><line class="ar" x1="847" y1="377" x2="857" y2="369"/><text class="lb" x="868" y="387">II:3</text><text class="gt" x="866" y="403">M / +</text></g>
<g id="p084-II4"><rect class="o" x="918" y="355" width="16" height="16"/><text class="lb" x="926" y="387">II:4</text></g>
<g id="p084-III1"><circle class="o" cx="812" cy="432" r="8"/><text class="lb" x="812" y="455">III:1</text></g>
<g id="p084-III2"><rect class="o" x="846" y="424" width="16" height="16"/><text class="lb" x="854" y="455">III:2</text></g>
<g id="p084-III3"><circle class="o" cx="898" cy="432" r="8"/><text class="lb" x="898" y="455">III:3</text><text class="gt" x="895" y="469">+ / +</text></g>
<g id="p084-III4"><rect class="o" x="933" y="424" width="16" height="16"/><text class="lb" x="941" y="455">III:4</text><text class="gt" x="938" y="469">+ / +</text></g>
<g id="p084-III5"><circle class="f" cx="986" cy="432" r="8"/><text class="lb" x="986" y="455">III:5</text><text class="gt" x="986" y="469">M / +</text></g>

<g id="p276-title"><text class="tt" x="1158" y="487">PHRC276</text><text class="tt" x="1158" y="505">(c.829-4C&gt;G)</text></g>
<g id="p276-I1"><rect class="f" x="1016" y="240" width="16" height="16"/><line class="d" x1="1013" y1="259" x2="1035" y2="237"/><text class="lb" x="1024" y="272">I:1</text></g>
<g id="p276-I2"><circle class="o" cx="1084" cy="248" r="8"/><line class="d" x1="1073" y1="259" x2="1095" y2="237"/><text class="lb" x="1084" y="272">I:2</text></g>
<g id="p276-II1"><rect class="o" x="938" y="309" width="16" height="16"/><line class="d" x1="935" y1="328" x2="957" y2="306"/><text class="lb" x="946" y="341">II:1</text></g>
<g id="p276-II2"><circle class="o" cx="988" cy="317" r="8"/><text class="lb" x="988" y="341">II:2</text></g>
<g id="p276-II3"><circle class="o" cx="1030" cy="317" r="8"/><text class="lb" x="1030" y="341">II:3</text></g>
<g id="p276-II4"><circle class="f" cx="1072" cy="317" r="8"/><text class="lb" x="1072" y="341">II:4</text></g>
<g id="p276-II5"><rect class="f" x="1106" y="309" width="16" height="16"/><text class="lb" x="1114" y="341">II:5</text><text class="gt" x="1112" y="356">M / +</text></g>
<g id="p276-II6"><rect class="f" x="1150" y="309" width="16" height="16"/><text class="lb" x="1158" y="341">II:6</text></g>
<g id="p276-II7"><circle class="o" cx="1213" cy="317" r="8"/><text class="lb" x="1213" y="341">II:7</text></g>
<g id="p276-III1"><rect class="o" x="1056" y="378" width="16" height="16"/><text class="lb" x="1063" y="410">III:1</text></g>
<g id="p276-III2"><circle class="f" cx="1122" cy="386" r="8"/><text class="lb" x="1122" y="410">III:2</text></g>
<g id="p276-III3"><rect class="o" x="1157" y="378" width="16" height="16"/><text class="lb" x="1165" y="410">III:3</text></g>
<g id="p276-III4"><circle class="f" cx="1208" cy="386" r="8"/><text class="lb" x="1208" y="410">III:4</text></g>
<g id="p276-III5"><rect class="o" x="1243" y="378" width="16" height="16"/><text class="lb" x="1251" y="410">III:5</text></g>
<g id="p276-IV1"><circle class="f" cx="1094" cy="437" r="8"/><line class="ar" x1="1073" y1="451" x2="1083" y2="443"/><text class="lb" x="1092" y="461">IV:1</text><text class="gt" x="1090" y="478">M / +</text></g>

<g id="p150-title"><text class="tt" x="791" y="832">PHRC150</text><text class="tt" x="791" y="848">(p.Trp246Cys)</text></g>
<g id="p150-I1"><rect class="o" x="755" y="560" width="16" height="16"/><line class="d" x1="752" y1="579" x2="774" y2="557"/><text class="lb" x="763" y="593">I:1</text></g>
<g id="p150-I2"><circle class="f" cx="819" cy="568" r="8"/><line class="d" x1="808" y1="579" x2="830" y2="557"/><text class="lb" x="819" y="593">I:2</text></g>
<g id="p150-II1"><circle class="o" cx="711" cy="632" r="8"/><text class="lb" x="711" y="654">II:1</text><text class="gt" x="708" y="670">+ / +</text></g>
<g id="p150-II2"><rect class="f" x="759" y="624" width="16" height="16"/><text class="lb" x="767" y="654">II:2</text><text class="gt" x="766" y="670">M / +</text></g>
<g id="p150-II3"><rect class="f" x="802" y="624" width="16" height="16"/><text class="lb" x="810" y="654">II:3</text><text class="gt" x="809" y="670">M / +</text></g>
<g id="p150-II4"><circle class="o" cx="868" cy="632" r="8"/><text class="lb" x="868" y="654">II:4</text></g>
<g id="p150-III1"><rect class="o" x="650" y="690" width="16" height="16"/><text class="lb" x="658" y="723">III:1</text></g>
<g id="p150-III2"><circle class="f" cx="714" cy="698" r="8"/><text class="lb" x="714" y="723">III:2</text><text class="gt" x="712" y="741">M / +</text></g>
<g id="p150-III3"><circle class="o" cx="759" cy="698" r="8"/><text class="lb" x="759" y="723">III:3</text><text class="gt" x="758" y="741">+ / +</text></g>
<g id="p150-III4"><rect class="f" x="806" y="690" width="16" height="16"/><text class="lb" x="814" y="723">III:4</text><text class="gt" x="813" y="741">M / +</text></g>
<g id="p150-III5"><circle class="o" cx="856" cy="698" r="8"/><text class="lb" x="858" y="723">III:5</text></g>
<g id="p150-III6"><rect class="o" x="895" y="690" width="16" height="16"/><text class="lb" x="903" y="723">III:6</text></g>
<g id="p150-IV1"><rect class="f" x="656" y="762" width="16" height="16"/><text class="lb" x="664" y="793">IV:1</text><text class="gt" x="663" y="808">M / +</text></g>
<g id="p150-IV2"><circle class="o" cx="708" cy="770" r="8"/><text class="lb" x="708" y="793">IV:2</text><text class="gt" x="705" y="808">+ / +</text></g>

<g id="p003-title"><text class="tt" x="978" y="832">PHRC003</text><text class="tt" x="978" y="848">(p.Asp194Glu)</text></g>
<g id="p003-I1"><rect class="o" x="900" y="553" width="16" height="16"/><line class="d" x1="897" y1="572" x2="919" y2="550"/><text class="lb" x="909" y="586">I:1</text></g>
<g id="p003-I2"><circle class="f" cx="963" cy="561" r="8"/><line class="d" x1="952" y1="572" x2="974" y2="550"/><text class="lb" x="966" y="586">I:2</text></g>
<g id="p003-II1"><circle class="f" cx="913" cy="631" r="8"/><text class="lb" x="913" y="654">II:1</text></g>
<g id="p003-II2"><circle class="f" cx="958" cy="631" r="8"/><text class="lb" x="957" y="654">II:2</text></g>
<g id="p003-II3"><rect class="o" x="1008" y="623" width="16" height="16"/><text class="lb" x="1016" y="654">II:3</text></g>
<g id="p003-III1"><circle class="f" cx="987" cy="678" r="8"/><line class="ar" x1="966" y1="692" x2="976" y2="684"/><text class="lb" x="984" y="703">III:1</text><text class="gt" x="982" y="721">M / +</text></g>
<g id="p003-III2"><rect class="o" x="1036" y="670" width="16" height="16"/><text class="lb" x="1044" y="703">III:2</text></g>
<g id="p003-IV1"><circle class="o" cx="971" cy="755" r="8"/><text class="lb" x="971" y="778">IV:1</text><text class="gt" x="969" y="792">+ / +</text></g>
<g id="p003-IV2"><circle class="o" cx="1015" cy="755" r="8"/><text class="lb" x="1015" y="778">IV:2</text><text class="gt" x="1014" y="792">+ / +</text></g>
<g id="p003-IV3"><circle class="o" cx="1059" cy="755" r="8"/><text class="lb" x="1059" y="778">IV:3</text><text class="gt" x="1058" y="792">+ / +</text></g>

<g id="p126-title"><text class="tt" x="1221" y="563">PHRC126</text><text class="tt" x="1214" y="583">(p.Val69Cysfs*30)</text></g>
<g id="p126-I1"><circle class="o" cx="1086" cy="561" r="8"/><line class="d" x1="1075" y1="572" x2="1097" y2="550"/><text class="lb" x="1086" y="585">I:1</text></g>
<g id="p126-I2"><rect class="f" x="1135" y="553" width="16" height="16"/><line class="d" x1="1132" y1="572" x2="1154" y2="550"/><text class="lb" x="1143" y="585">I:2</text></g>
<g id="p126-II1"><circle class="f" cx="1070" cy="630" r="8"/><text class="lb" x="1070" y="654">II:1</text></g>
<g id="p126-II2"><rect class="o" x="1106" y="622" width="16" height="16"/><text class="lb" x="1114" y="654">II:2</text><text class="gt" x="1113" y="670">+ / +</text></g>
<g id="p126-II3"><circle class="f" cx="1156" cy="630" r="8"/><line class="ar" x1="1135" y1="644" x2="1145" y2="636"/><text class="lb" x="1158" y="654">II:3</text><text class="gt" x="1153" y="670">M / +</text></g>
<g id="p126-II4"><rect class="o" x="1205" y="622" width="16" height="16"/><text class="lb" x="1213" y="654">II:4</text><text class="gt" x="1213" y="670">+ / +</text></g>
<g id="p126-III1"><circle class="o" cx="1143" cy="698" r="8"/><text class="lb" x="1143" y="723">III:1</text><text class="gt" x="1143" y="741">+ / +</text></g>
<g id="p126-III2"><circle class="o" cx="1185" cy="698" r="8"/><text class="lb" x="1185" y="723">III:2</text></g>
<g id="p126-III3"><rect class="o" x="1221" y="690" width="16" height="16"/><text class="lb" x="1229" y="723">III:3</text></g>

<g id="f466-title"><text class="tt" x="1133" y="832">Fam466</text><text class="tt" x="1138" y="848">(p.Ala253Glu)</text></g>
<g id="f466-I1"><circle class="o" cx="1189" cy="755" r="8"/><text class="lb" x="1189" y="778">I:1</text><text class="gt" x="1184" y="795">+ / +</text></g>
<g id="f466-I2"><rect class="f" x="1236" y="747" width="16" height="16"/><line class="ar" x1="1222" y1="769" x2="1232" y2="761"/><text class="lb" x="1243" y="778">I:2</text><text class="gt" x="1241" y="795">M / +</text></g>
<g id="f466-II1"><circle class="o" cx="1193" cy="822" r="8"/><text class="lb" x="1194" y="847">II:1</text><text class="gt" x="1185" y="863">+ / +</text></g>
<g id="f466-II2"><rect class="f" x="1230" y="814" width="16" height="16"/><text class="lb" x="1238" y="847">II:2</text><text class="gt" x="1239" y="863">M / +</text></g>
</svg>
